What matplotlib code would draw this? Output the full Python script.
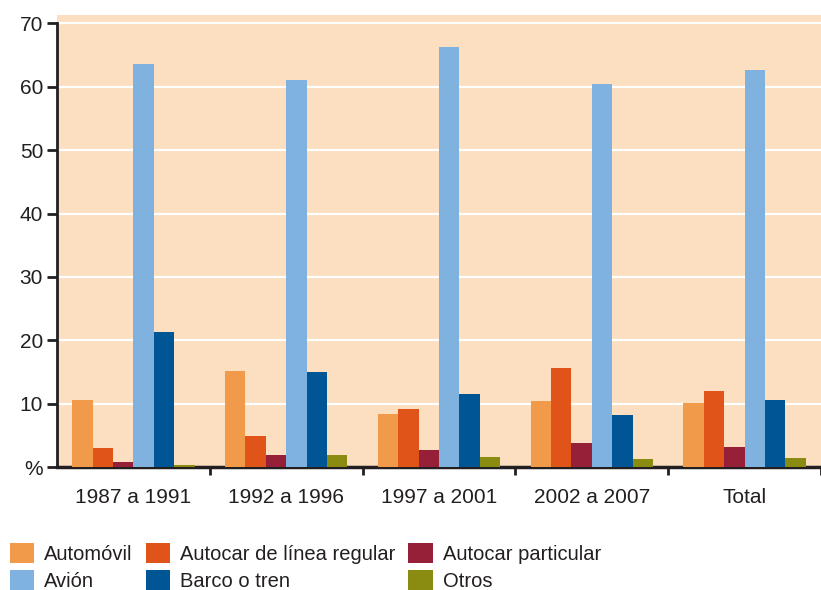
import numpy as np
import matplotlib.pyplot as plt

periodos = ['1987 a 1991', '1992 a 1996', '1997 a 2001', '2002 a 2007', 'Total']
series = ['Automóvil', 'Autocar de línea regular', 'Autocar particular',
          'Avión', 'Barco o tren', 'Otros']
colores = ['#F09A4A', '#E05419', '#952038', '#80B2E0', '#005694', '#8A8C12']

automovil = [10.6, 15.2, 8.4, 10.4, 10.1]
autocar_regular = [3.0, 4.9, 9.2, 15.7, 12.0]
autocar_particular = [0.8, 1.9, 2.7, 3.8, 3.2]
avion = [63.6, 61.0, 66.2, 60.4, 62.6]
barco_tren = [21.4, 15.0, 11.5, 8.2, 10.6]
otros = [0.3, 1.9, 1.6, 1.3, 1.5]
valores = [automovil, autocar_regular, autocar_particular, avion, barco_tren, otros]

plt.rcParams['font.family'] = ['Liberation Sans', 'DejaVu Sans']

fig = plt.figure(figsize=(8.21, 5.9), dpi=100)
ax = fig.add_axes([0.0694, 0.208, 0.9306, 0.7666])
ax.set_facecolor('#FBDFC0')

x = np.arange(len(periodos))
w = 0.8 / 6
for i, (nom, col, val) in enumerate(zip(series, colores, valores)):
    ax.bar(x - 0.4 + w * (i + 0.5), val, w, color=col, label=nom, zorder=3)

ax.set_ylim(0, 71.3)
ax.set_xlim(-0.5, 4.447)
ax.set_yticks(range(0, 80, 10))
ax.set_yticklabels(['%'] + [str(v) for v in range(10, 80, 10)])
for v in range(10, 80, 10):
    ax.axhline(v, color='white', lw=1.6, zorder=1)

ax.set_xticks(x + 0.5)
ax.set_xticklabels([])
ax.set_xticks(x, minor=True)
ax.set_xticklabels(periodos, minor=True)
ax.tick_params(axis='x', which='minor', length=0, pad=15, labelsize=15, colors='#231F20')
ax.tick_params(axis='x', which='major', length=6, width=2, color='#231F20')
ax.tick_params(axis='y', length=7, width=2, color='#231F20', labelsize=15,
               labelcolor='#231F20', pad=3)

for s in ['top', 'right']:
    ax.spines[s].set_visible(False)
ax.spines['left'].set_bounds(0, 70)
ax.spines['left'].set_linewidth(2)
ax.spines['bottom'].set_linewidth(2.5)
ax.spines['left'].set_color('#231F20')
ax.spines['bottom'].set_color('#231F20')

h, l = ax.get_legend_handles_labels()
orden = [0, 3, 1, 4, 2, 5]
fig.legend([h[i] for i in orden], [l[i] for i in orden], ncol=3,
           loc='upper left', bbox_to_anchor=(0.012, 0.08), frameon=False,
           fontsize=14.5, handlelength=1.2, handleheight=1.2,
           handletextpad=0.5, columnspacing=0.65, labelspacing=0.3,
           borderpad=0, borderaxespad=0, labelcolor='#231F20')

fig.savefig('out.png', dpi=100)
